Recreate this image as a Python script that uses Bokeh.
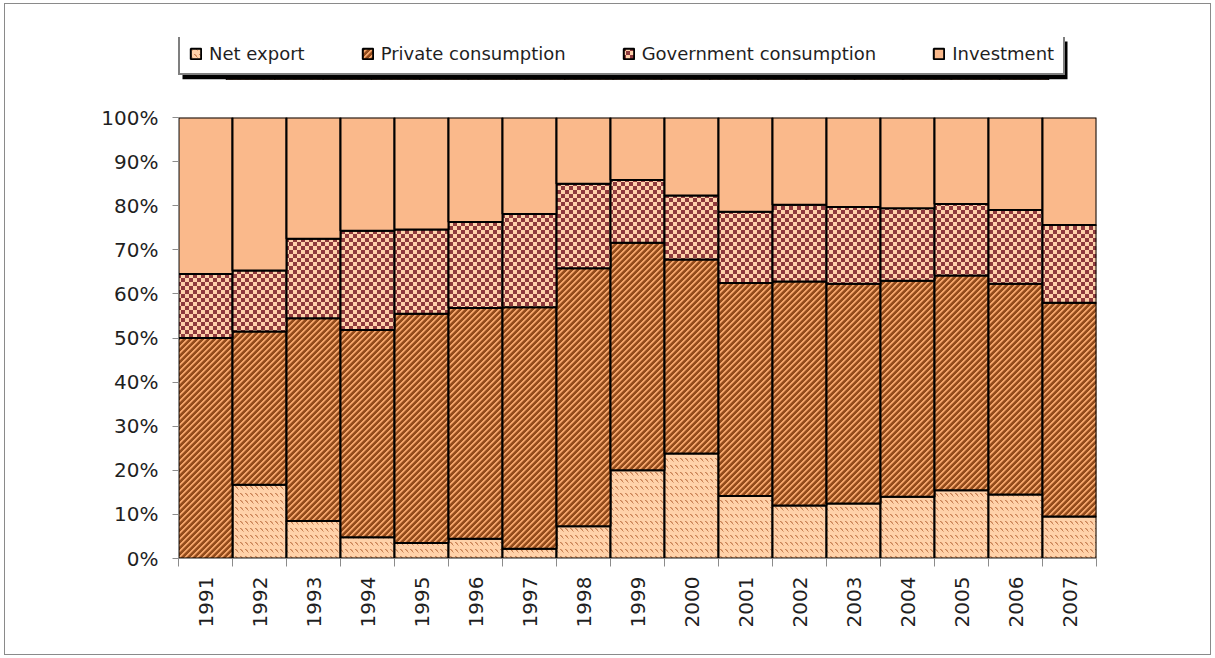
import math
from bokeh.plotting import figure
from bokeh.layouts import column
from bokeh.models import (ColumnDataSource, Legend, LegendItem, FixedTicker,
                          NumeralTickFormatter, CanvasTexture, Range1d, BoxAnnotation)
from bokeh.core.properties import value
from bokeh.transform import stack
from bokeh.embed import file_html
from bokeh.resources import INLINE

# ---------------- data (percent shares) ----------------
years = ["1991", "1992", "1993", "1994", "1995", "1996", "1997", "1998", "1999",
         "2000", "2001", "2002", "2003", "2004", "2005", "2006", "2007"]
net_export = [0.0, 16.7, 8.5, 4.8, 3.5, 4.5, 2.2, 7.3, 20.0, 23.8, 14.2, 12.0,
              12.5, 14.0, 15.5, 14.5, 9.5]
private_consumption = [50.0, 34.8, 46.0, 47.0, 52.0, 52.3, 54.8, 58.5, 51.6, 44.0,
                       48.3, 50.8, 49.8, 49.0, 48.7, 47.8, 48.5]
government_consumption = [14.5, 13.8, 18.0, 22.5, 19.1, 19.5, 21.1, 19.2, 14.2, 14.5,
                          16.1, 17.4, 17.4, 16.4, 16.2, 16.7, 17.6]
investment = [35.5, 34.7, 27.5, 25.7, 25.4, 23.7, 21.9, 15.0, 14.2, 17.7, 21.4, 19.8,
              20.3, 20.6, 19.6, 21.0, 24.4]
series_names = ["Net export", "Private consumption", "Government consumption", "Investment"]
y_ticks = [0.0, 0.1, 0.2, 0.3, 0.4, 0.5, 0.6, 0.7, 0.8, 0.9, 1.0]

# ---------------- fill textures ----------------
NETEX_JS = """
ctx.canvas.width = 5; ctx.canvas.height = 7;
ctx.fillStyle = "#FFD2AA"; ctx.fillRect(0, 0, 5, 7);
ctx.fillStyle = "#C98356";
ctx.fillRect(0, 0, 1, 1); ctx.fillRect(1, 1, 1, 1); ctx.fillRect(2, 2, 1, 1);
ctx.fillStyle = "#E2A47A";
ctx.fillRect(1, 0, 1, 1); ctx.fillRect(2, 1, 1, 1); ctx.fillRect(3, 3, 1, 1);
"""
PRIV_JS = """
ctx.canvas.width = 6; ctx.canvas.height = 6;
for (let y = 0; y < 6; y++) {
  for (let x = 0; x < 6; x++) {
    const d = (x + y) % 6;
    ctx.fillStyle = (d == 0 || d == 1) ? "#F2A46A" : (d == 2 ? "#C27440" : "#934C1C");
    ctx.fillRect(x, y, 1, 1);
  }
}
"""
GOV_JS = """
ctx.canvas.width = 8; ctx.canvas.height = 8;
ctx.fillStyle = "#FFD0AA"; ctx.fillRect(0, 0, 8, 8);
ctx.fillStyle = "#8E3A3D"; ctx.fillRect(0, 0, 4, 4); ctx.fillRect(4, 4, 4, 4);
"""
textures = {
    "netex": CanvasTexture(code=NETEX_JS, repetition="repeat"),
    "priv": CanvasTexture(code=PRIV_JS, repetition="repeat"),
    "gov": CanvasTexture(code=GOV_JS, repetition="repeat"),
}
fills = ["#FFD2AA", "#934C1C", "#FFD0AA", "#FAB98B"]
patterns = ["netex", "priv", "gov", " "]
cols = ["ne", "pc", "gc", "inv"]

# ---------------- source ----------------
xpos = [i + 1 for i in range(len(years))]
source = ColumnDataSource(dict(
    x=xpos,
    ne=[v / 100 for v in net_export],
    pc=[v / 100 for v in private_consumption],
    gc=[v / 100 for v in government_consumption],
    inv=[v / 100 for v in investment],
))

FONT = "DejaVu Sans"
TXT = "#1f1f1f"
GREY = "#8c8c8c"


def add_bars(fig):
    rs = []
    for i, c in enumerate(cols):
        bottom = stack(*cols[:i]) if i > 0 else 0
        r = fig.vbar(x="x", width=1.0, bottom=bottom, top=stack(*cols[:i + 1]),
                     source=source, fill_color=fills[i], line_color="black",
                     line_width=2, hatch_pattern=value(patterns[i]),
                     hatch_extra=textures)
        rs.append(r)
    return rs


# ---------------- main chart ----------------
W = 1205
H_TOP = 90
p = figure(width=W, height=650 - H_TOP,
           x_range=Range1d(0.5, len(years) + 0.5), y_range=Range1d(0, 1),
           output_backend="svg", toolbar_location=None,
           min_border_left=173, min_border_right=114,
           min_border_top=23, min_border_bottom=96)
add_bars(p)
p.xgrid.visible = False
p.ygrid.visible = False
p.outline_line_color = None

ya = p.yaxis[0]
ya.ticker = FixedTicker(ticks=y_ticks)
ya.formatter = NumeralTickFormatter(format="0%")
ya.major_tick_out = 6
ya.major_tick_in = 0
ya.minor_tick_out = 0
ya.minor_tick_in = 0
ya.axis_line_color = GREY
ya.major_tick_line_color = GREY
ya.major_label_text_font = FONT
ya.major_label_text_font_size = "20px"
ya.major_label_text_color = TXT
ya.major_label_standoff = 14

xa = p.xaxis[0]
xa.ticker = FixedTicker(ticks=xpos, minor_ticks=[i + 0.5 for i in range(len(years) + 1)])
xa.major_label_overrides = {x: y for x, y in zip(xpos, years)}
xa.major_label_orientation = math.pi / 2
xa.major_tick_out = 0
xa.major_tick_in = 0
xa.minor_tick_out = 8
xa.minor_tick_in = 0
xa.minor_tick_line_color = GREY
xa.axis_line_color = GREY
xa.major_label_text_font = FONT
xa.major_label_text_font_size = "20px"
xa.major_label_text_color = TXT
xa.major_label_standoff = 10

# ---------------- legend strip (own figure; its bars lie outside its view) ----------------
lf = figure(width=W, height=H_TOP, x_range=Range1d(-0.5, len(years) + 1.5),
            y_range=Range1d(10, 11),
            x_axis_type=None, y_axis_type=None, output_backend="svg",
            toolbar_location=None, min_border_top=33, min_border_bottom=15)
lf.outline_line_color = None
lf.grid.visible = False
lrs = add_bars(lf)
items = [LegendItem(label=n, renderers=[r]) for n, r in zip(series_names, lrs)]

# drop shadow of the legend box (canvas pixels of the strip)
shadow = BoxAnnotation(left=177, right=1062, top=37, bottom=75,
                       left_units="canvas", right_units="canvas",
                       top_units="canvas", bottom_units="canvas",
                       fill_color="black", fill_alpha=1.0, line_color=None)
lf.add_layout(shadow)

legend = Legend(items=items, orientation="horizontal", location=(0, 4),
                label_text_font=FONT, label_text_font_size="18px",
                label_text_color=TXT,
                glyph_width=13, glyph_height=13, label_standoff=7,
                spacing=56, padding=9, margin=0, label_height=20,
                border_line_color="black", border_line_width=2,
                background_fill_color="white", background_fill_alpha=1.0)
lf.add_layout(legend, "center")

layout = column(lf, p, spacing=0)
layout.styles = {"border": "1px solid #8a8a8a", "position": "relative",
                 "left": "4px", "top": "3px"}

open("out.html", "w").write(file_html(layout, INLINE))
